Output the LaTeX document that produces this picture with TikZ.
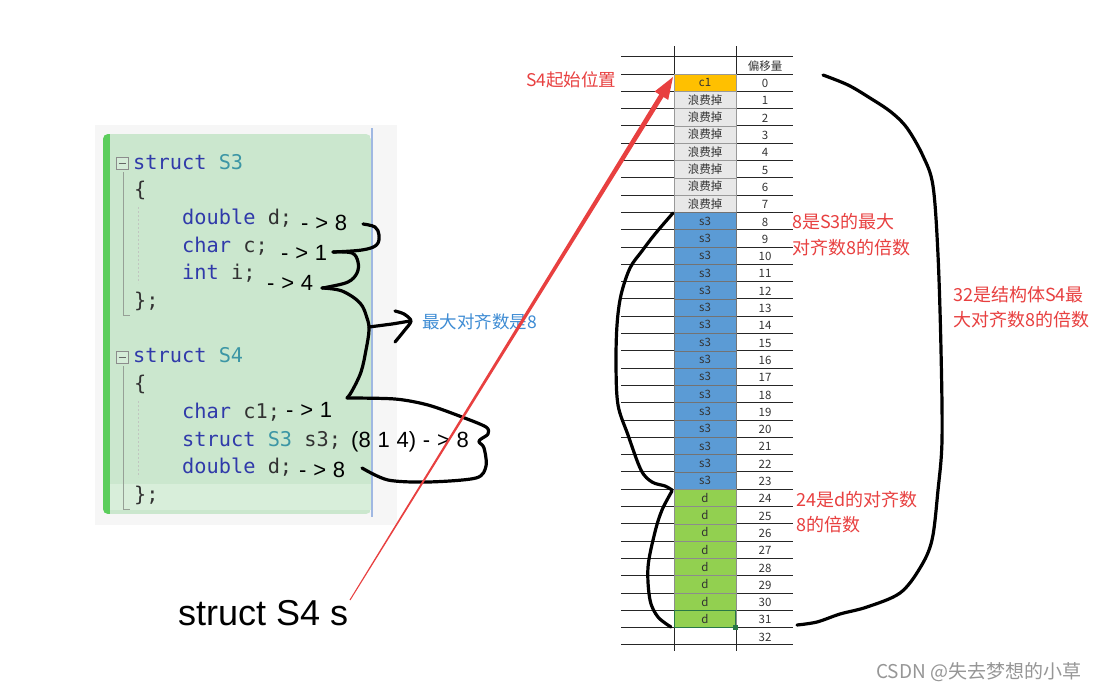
\documentclass[tikz,border=0pt]{standalone}
\usepackage{fontspec}
\setmainfont{Liberation Sans}
\newfontfamily\cjk{Noto Sans CJK SC}
\newfontfamily\mono{DejaVu Sans Mono}
\newcommand{\sgap}{\hspace{6.8pt}}
\definecolor{shotbg}{RGB}{246,246,246}
\definecolor{panelgreen}{RGB}{203,231,206}
\definecolor{bargreen}{RGB}{92,206,92}
\definecolor{hlgreen}{RGB}{216,238,218}
\definecolor{blueline}{RGB}{160,184,226}
\definecolor{kw}{RGB}{48,58,170}
\definecolor{ty}{RGB}{60,150,165}
\definecolor{codetxt}{RGB}{50,50,50}
\definecolor{guidegray}{RGB}{150,160,150}
\definecolor{annred}{RGB}{232,64,64}
\definecolor{annblue}{RGB}{62,140,212}
\definecolor{orangecell}{RGB}{255,192,0}
\definecolor{graycell}{RGB}{232,232,232}
\definecolor{bluecell}{RGB}{91,155,213}
\definecolor{greencell}{RGB}{146,208,80}
\definecolor{selgreen}{RGB}{40,120,70}
\definecolor{wm}{RGB}{150,150,150}
\begin{document}
\begin{tikzpicture}[x=1pt,y=-1pt,
  code/.style={anchor=base west,inner sep=0pt,font=\mono\fontsize{20.3}{20}\selectfont,text=codetxt},
  ann/.style={anchor=base west,inner sep=0pt,font=\fontsize{22}{22}\selectfont,text=black},
  redtxt/.style={anchor=west,inner sep=0pt,font=\cjk\fontsize{18}{18}\selectfont,text=annred},
  pen/.style={draw=black,line width=3.2pt,line cap=round,line join=round},
  tline/.style={draw=black!85,line width=0.9pt},
  cell/.style={draw=black!40,line width=0.6pt,minimum width=62pt,minimum height=17.3pt,inner sep=0pt,font=\cjk\fontsize{11.5}{11.5}\selectfont,text=black!80},
  num/.style={inner sep=0pt,font=\cjk\fontsize{11.5}{11.5}\selectfont,text=black!80},
  mbox/.style={draw=black!45,line width=0.7pt}]
\useasboundingbox (0,0) rectangle (1102,691);
\fill[white] (0,0) rectangle (1102,691);

% ---------- code screenshot ----------
\fill[shotbg] (95,125) rectangle (397,525);
\begin{scope}
\clip[rounded corners=5pt] (103,134) rectangle (371,514);
\fill[panelgreen] (103,134) rectangle (371,514);
\fill[bargreen] (103,134) rectangle (110,514);
\fill[hlgreen] (110,484) rectangle (371,510);
\end{scope}
\draw[blueline,line width=1.2pt] (372,128) -- (372,517);

% collapse boxes and guides
\draw[mbox,fill=panelgreen!80!white] (116,157) rectangle (128,169);
\draw[black!60,line width=0.8pt] (118.5,163) -- (125.5,163);
\draw[guidegray,line width=0.8pt] (123,172) -- (123,315) -- (130,315);
\draw[guidegray!60,line width=0.6pt,dash pattern=on 2pt off 2pt] (138,207) -- (138,283);
\draw[mbox,fill=panelgreen!80!white] (116,351) rectangle (128,363);
\draw[black!60,line width=0.8pt] (118.5,357) -- (125.5,357);
\draw[guidegray,line width=0.8pt] (123,366) -- (123,509) -- (130,509);
\draw[guidegray!60,line width=0.6pt,dash pattern=on 2pt off 2pt] (138,401) -- (138,477);

\node[code] (s3h) at (133,169) {\textcolor{kw}{struct} \textcolor{ty}{S3}};
\node[code] (s3o) at (134,196.7) {\{};
\node[code] (s3a) at (182,224.4) {\textcolor{kw}{double} d;};
\node[code] (s3b) at (182,252.1) {\textcolor{kw}{char} c;};
\node[code] (s3c) at (182,279.8) {\textcolor{kw}{int} i;};
\node[code] (s3e) at (134,307.5) {\};};
\node[code] (s4h) at (133,362.9) {\textcolor{kw}{struct} \textcolor{ty}{S4}};
\node[code] (s4o) at (134,390.6) {\{};
\node[code] (s4a) at (182,418.3) {\textcolor{kw}{char} c1;};
\node[code] (s4b) at (182,446) {\textcolor{kw}{struct} \textcolor{ty}{S3} s3;};
\node[code] (s4c) at (182,473.7) {\textcolor{kw}{double} d;};
\node[code] (s4e) at (134,501.4) {\};};

\node[ann] (a1) at (301,230) {-\sgap>\sgap 8};
\node[ann] (a2) at (281,260) {-\sgap>\sgap 1};
\node[ann] (a3) at (267,290) {-\sgap>\sgap 4};
\node[ann] (a4) at (286,417) {-\sgap>\sgap 1};
\node[ann] (a5) at (351,447) {(8\sgap 1\sgap 4)\sgap -\sgap>\sgap 8};
\node[ann] (a6) at (299,477) {-\sgap>\sgap 8};

% hand-drawn braces
\draw[pen] plot[smooth,tension=0.6] coordinates {(363,224) (375,227) (379,235) (376.5,245) (362,250) (333,252)};
\draw[pen] plot[smooth,tension=0.6] coordinates {(333,252) (352,253) (358,262) (357,273) (348,282) (328,287) (322,288)};
\draw[pen] plot[smooth,tension=0.6] coordinates {(322,288) (342,291) (360,303) (367,318) (369,330) (366,350) (361,372) (352,391) (347,398)};
\draw[pen] plot[smooth,tension=0.5] coordinates {(347,398) (395,399) (428,405) (462,417) (486,427) (488,434) (481,439) (479,442) (484,448) (486,466) (476,478) (428,482) (388,480) (362,468)};
\draw[pen] (369,327) -- (392,324) -- (410,321);
\draw[pen] plot[smooth,tension=0.5] coordinates {(395,311) (404,314) (411,321) (404,331) (395,342)};
\node[anchor=west,inner sep=0pt,font=\cjk\fontsize{17.5}{17.5}\selectfont,text=annblue] (maxal) at (422,322) {最大对齐数是8};

% ---------- table ----------
\draw[tline] (621,56.7) -- (793,56.7);
\foreach \k in {0,...,33}{
  \draw[tline] (621,{74+17.3*\k}) -- (793,{74+17.3*\k});
}
\draw[tline] (674,46) -- (674,651);
\draw[tline] (736,46) -- (736,651);
\node[num] (hdr) at (765,66) {偏移量};
\node[cell,fill=orangecell] (c0) at (705,82.65) {c1};
\foreach \k in {1,...,7}{
  \node[cell,fill=graycell] (c\k) at (705,{82.65+17.3*\k}) {浪费掉};
}
\foreach \k in {8,...,23}{
  \node[cell,fill=bluecell,draw=black!55] (c\k) at (705,{82.65+17.3*\k}) {s3};
}
\foreach \k in {24,...,31}{
  \node[cell,fill=greencell,draw=black!45] (c\k) at (705,{82.65+17.3*\k}) {d};
}
\draw[selgreen,line width=1.1pt] (674.6,610.9) rectangle (735.4,627.2);
\fill[selgreen] (733.3,625.3) rectangle (737.7,629.7);
\foreach \k in {0,...,32}{
  \node[num] (n\k) at (765,{83.5+17.3*\k}) {\k};
}

% table braces
\draw[pen] plot[smooth,tension=0.55] coordinates {(673,213) (655,234) (642,251) (630,268) (621,295) (617,325) (616,365) (618,405) (628,435) (641,470) (652,482) (665,486) (672,490)};
\draw[pen] plot[smooth,tension=0.55] coordinates {(672,491) (662,510) (655,532) (648,567) (650,600) (658,617) (671,627)};
\draw[pen] plot[smooth,tension=0.55] coordinates {(823,75) (848,85) (870,98) (891,112) (907,128) (923,156) (933,186) (938,255) (941,350) (942,440) (938,490) (932,540) (920,568) (900,593) (867,607) (840,614) (817,622) (797,625)};

% red arrow
\fill[annred] (349.57,599.74) -- (659.27,94.39) -- (654.6,91.5) -- (673,77) -- (668.2,99.9) -- (663.53,97.01) -- (350.43,600.26) -- cycle;
\node[anchor=base west,inner sep=0pt,font=\fontsize{36}{36}\selectfont] (svar) at (178,625) {struct S4 s};

% red notes
\node[redtxt,font=\cjk\fontsize{17.5}{17.5}\selectfont] (start) at (526,80) {S4起始位置};
\node[redtxt] (n8a) at (792,222) {8是S3的最大};
\node[redtxt] (n8b) at (792,248) {对齐数8的倍数};
\node[redtxt] (n32a) at (953,295) {32是结构体S4最};
\node[redtxt] (n32b) at (953,320) {大对齐数8的倍数};
\node[redtxt] (n24a) at (796,500) {24是d的对齐数};
\node[redtxt] (n24b) at (796,525) {8的倍数};
\node[anchor=west,inner sep=0pt,font=\cjk\fontsize{19}{19}\selectfont,text=wm] (wmk) at (876,672) {CSDN @失去梦想的小草};
\end{tikzpicture}
\end{document}
